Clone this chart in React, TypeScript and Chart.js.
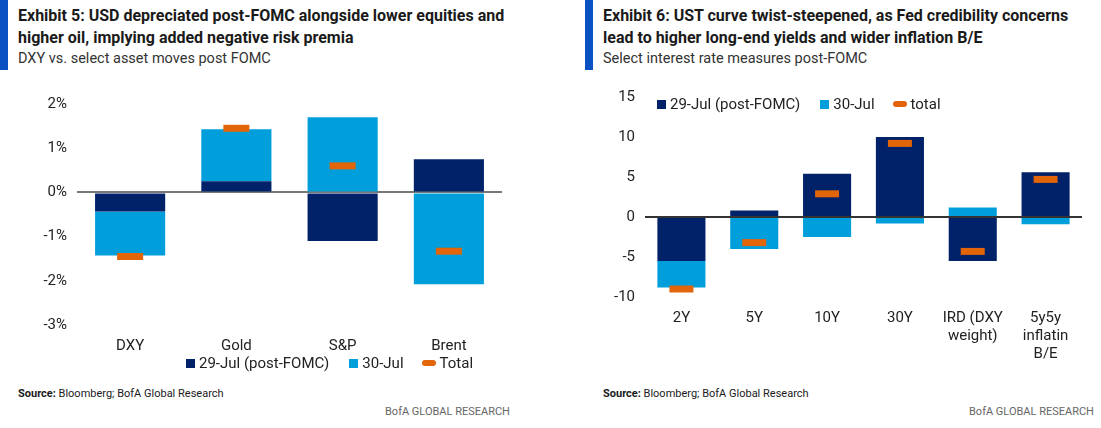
import React, { useEffect, useRef } from "react";
import { Chart, registerables } from "chart.js";
Chart.register(...registerables);

const FONT = "Roboto, sans-serif";
const NAVY = "#012169";
const SKY = "#009FDB";
const ORANGE = "#E2650A";

const leftCats = ["DXY", "Gold", "S&P", "Brent"];
const leftJul29 = [-0.43, 0.25, -1.1, 0.75];
const leftJul30 = [-1.0, 1.18, 1.7, -2.08];
const leftTotal = [-1.45, 1.45, 0.6, -1.33];

const rightCats: (string | string[])[] = ["2Y", "5Y", "10Y", "30Y", ["IRD (DXY", "weight)"], ["5y5y", "inflatin", "B/E"]];
const rightJul29 = [-5.5, 0.8, 5.4, 10.0, -5.5, 5.6];
const rightJul30 = [-3.3, -4.0, -2.5, -0.8, 1.2, -0.9];
const rightTotal = [-9.0, -3.2, 2.9, 9.2, -4.3, 4.7];

function makeChart(canvas: HTMLCanvasElement, cfg: any) {
  const { cats, d1, d2, tot, min, max, step, fmt, yWidth, padRight, padTop, totLabel, zeroColor, dash, xpad } = cfg;
  return new Chart(canvas, {
    type: "bar",
    data: {
      labels: cats,
      datasets: [
        { type: "bar", label: "29-Jul (post-FOMC)", data: d1, backgroundColor: NAVY, stack: "a", categoryPercentage: 0.66, barPercentage: 1, order: 2 },
        { type: "bar", label: "30-Jul", data: d2, backgroundColor: SKY, stack: "a", categoryPercentage: 0.66, barPercentage: 1, order: 2 },
        { type: "line", label: totLabel, data: tot, stack: "t", showLine: false, pointStyle: "line", pointRadius: dash, pointBorderWidth: 7, borderColor: ORANGE, backgroundColor: ORANGE, borderWidth: 7, order: 1 } as any,
      ],
    },
    options: {
      animation: false,
      responsive: false,
      layout: { padding: { right: padRight, top: padTop } },
      plugins: { tooltip: { enabled: false }, legend: { display: false } },
      scales: {
        x: {
          stacked: true,
          grid: { display: false, drawTicks: false },
          border: { display: false },
          ticks: { font: { family: FONT, size: 15 }, color: "#222", padding: xpad },
        },
        y: {
          stacked: true,
          min, max,
          afterFit: (s: any) => { s.width = yWidth; },
          grid: { drawTicks: false, color: (c: any) => (c.tick.value === 0 ? zeroColor : "transparent"), lineWidth: 2 },
          border: { display: false },
          ticks: { stepSize: step, font: { family: FONT, size: 15 }, color: "#222", padding: 10, callback: fmt },
        },
      },
    } as any,
  });
}

function Panel(props: any) {
  const ref = useRef<HTMLCanvasElement>(null);
  useEffect(() => {
    const c = makeChart(ref.current!, props.cfg);
    return () => c.destroy();
  }, []);
  return <canvas ref={ref} width={props.w} height={props.h} style={{ position: "absolute", left: props.x, top: props.y, width: props.w, height: props.h }} />;
}

const txt = (s: any) => ({ position: "absolute" as const, fontFamily: FONT, color: "#1a1a1a", whiteSpace: "nowrap" as const, ...s });

function Legend(p: { left: number; top: number; total: string }) {
  return (
    <div style={txt({ left: p.left, top: p.top, fontSize: 15, color: "#222", display: "flex", alignItems: "center", gap: 4 })}>
      <span style={{ display: "inline-block", width: 9, height: 9, background: NAVY }} />29-Jul (post-FOMC)
      <span style={{ display: "inline-block", width: 9, height: 9, background: SKY, marginLeft: 16 }} />30-Jul
      <span style={{ display: "inline-block", width: 14, height: 6, borderRadius: 3, background: ORANGE, marginLeft: 14 }} />{p.total}
    </div>
  );
}

export default function App() {
  return (
    <div style={{ position: "absolute", left: 0, top: 0, width: 1101, height: 428, background: "#fff", overflow: "hidden" }}>
      <div style={{ position: "absolute", left: 0, top: 0, width: 8, height: 70, background: "#0A52C4" }} />
      <div style={{ position: "absolute", left: 585, top: 0, width: 8, height: 70, background: "#0A52C4" }} />
      <div style={txt({ left: 18, top: 5, fontSize: 16, fontWeight: "bold", lineHeight: "22px" })}>Exhibit 5: USD depreciated post-FOMC alongside lower equities and<br />higher oil, implying added negative risk premia</div>
      <div style={txt({ left: 18, top: 50, fontSize: 14.5, color: "#333" })}>DXY vs. select asset moves post FOMC</div>
      <div style={txt({ left: 603, top: 5, fontSize: 16, fontWeight: "bold", lineHeight: "22px" })}>Exhibit 6: UST curve twist-steepened, as Fed credibility concerns<br />lead to higher long-end yields and wider inflation B/E</div>
      <div style={txt({ left: 603, top: 50, fontSize: 14.5, color: "#333" })}>Select interest rate measures post-FOMC</div>

      <Panel x={0} y={84} w={560} h={283} cfg={{ cats: leftCats, d1: leftJul29, d2: leftJul30, tot: leftTotal, min: -3, max: 2, step: 1, fmt: (v: number) => v + "%", yWidth: 77, padRight: 58, padTop: 10, totLabel: "Total", zeroColor: "#777", dash: 13, xpad: 12 }} />
      <Panel x={585} y={78} w={516} h={297} cfg={{ cats: rightCats, d1: rightJul29, d2: rightJul30, tot: rightTotal, min: -10, max: 15, step: 5, fmt: (v: number) => String(v), yWidth: 60, padRight: 12, padTop: 8, totLabel: "total", zeroColor: "#333", dash: 12, xpad: 12 }} />

      <Legend left={186} top={354} total="Total" />
      <Legend left={657} top={95} total="total" />

      <div style={txt({ left: 18, top: 387, fontSize: 11 })}><b>Source:</b> Bloomberg; BofA Global Research</div>
      <div style={txt({ left: 385, top: 405, fontSize: 11, color: "#666" })}>BofA GLOBAL RESEARCH</div>
      <div style={txt({ left: 603, top: 387, fontSize: 11 })}><b>Source:</b> Bloomberg; BofA Global Research</div>
      <div style={txt({ left: 969, top: 405, fontSize: 11, color: "#666" })}>BofA GLOBAL RESEARCH</div>
    </div>
  );
}
